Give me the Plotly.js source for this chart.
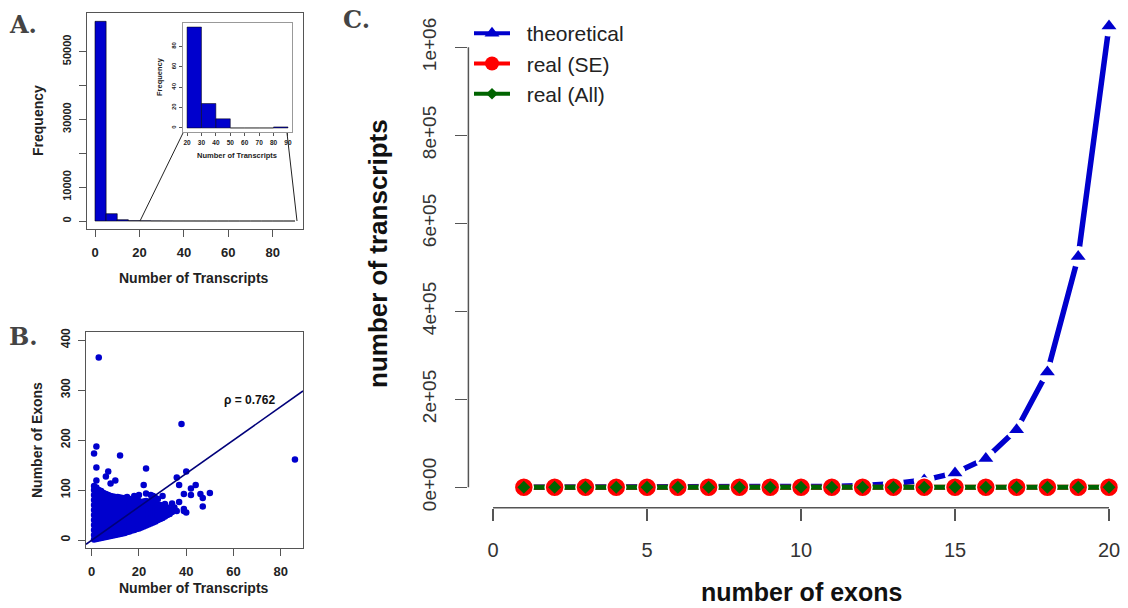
<!DOCTYPE html>
<html><head><meta charset="utf-8">
<script src="https://cdn.plot.ly/plotly-3.0.1.min.js"></script>
<style>html,body{margin:0;padding:0;background:#fff}#chart{width:1128px;height:608px}</style>
</head><body><div id="chart"></div>
<script>
// ---------- Panel A: histogram of transcripts per gene ----------
const histBinStart = [0,5,10,15,20,25,30,35,40,45,50,55,60,65,70,75,80,85];
const histCounts   = [58900,2150,380,110,70,29,15,9,6,3,0,0,0,0,0,0,0,1];
const histBinWidth = 5;
// inset (zoom on 20-90)
const insetBinStart = [20,30,40,50,60,70,80];
const insetCounts   = [99,24,9,0,0,0,1];
const insetBinWidth = 10;

// ---------- Panel B: transcripts vs exons ----------
const outlierX = [3,38,2,1,12,2,23,40,7,6,36,10,2,8,22,37,44,86,42,50,46,39,42,47,47,37,39,40,39,34,30,26,18,15,12,6,23,27,33,26,25,28,31,35,30,36,20];
const outlierY = [365,232,187,173,169,145,143,137,137,127,125,119,119,113,110,110,110,161,103,94,92,92,90,84,67,76,62,55,58,73,88,88,88,86,85,84,93,84,55,40,90,82,72,65,50,58,90];
// dense cloud: per number of transcripts, the exon counts observed
const cloudCols = [
 [1,[1,10,20,30,40,50,60,70,80,90,100,108]],
 [2,[2,10,20,30,40,50,60,70,80,90,100,105]],
 [3,[3,12,22,32,42,52,62,72,82,92,100]],
 [4,[4,13,23,33,43,53,63,73,83,93,98]],
 [5,[5,14,24,34,44,54,64,74,84,94]],
 [6,[6,15,25,35,45,55,65,75,85,92]],
 [7,[7,16,26,36,46,56,66,76,86,90]],
 [8,[8,17,27,37,47,57,67,77,88]],
 [9,[9,18,28,38,48,58,68,78,87]],
 [10,[10,19,29,39,49,59,69,79,86]],
 [11,[11,21,31,41,51,61,71,81,86]],
 [12,[12,22,32,42,52,62,72,82]],
 [13,[13,23,33,43,53,63,73,84]],
 [14,[14,24,34,44,54,64,74,84]],
 [15,[16,26,36,46,56,66,76,84]],
 [16,[17,27,37,47,57,67,77,82]],
 [17,[19,29,39,49,59,69,79]],
 [18,[20,30,40,50,60,70,80]],
 [19,[22,32,42,52,62,72,80]],
 [20,[23,33,43,53,63,73,78]],
 [21,[25,35,45,55,65,75]],
 [22,[27,37,47,57,67,77]],
 [23,[29,39,49,59,69,78]],
 [24,[31,41,51,61,71,76]],
 [25,[33,43,53,63,73,78]],
 [26,[35,45,55,65,75]],
 [27,[37,47,57,67,74]],
 [28,[40,50,60,70]],
 [29,[42,52,62,70]],
 [30,[44,54,64,68]],
 [31,[47,57,67]],
 [32,[50,58,65]],
 [33,[52,60]],
 [34,[56,62]]
];
const fitX = [-2.4, 89.4];
const fitY = [-8.5, 298];
const rhoLabel = 'ρ = 0.762';

// ---------- Panel C: transcripts vs exons (theoretical / real) ----------
const exonCounts  = [1,2,3,4,5,6,7,8,9,10,11,12,13,14,15,16,17,18,19,20];
const theoretical = [2,4,8,16,32,64,128,256,512,1024,2048,4096,8192,16384,32768,65536,131072,262144,524288,1048576];
const realSE      = [1,2,3,4,6,8,9,11,12,13,14,15,16,17,18,19,20,21,22,23];
const realAll     = [1,3,5,8,10,13,15,18,20,22,25,27,30,32,35,37,40,42,45,47];
const seriesNames = ['theoretical', 'real (SE)', 'real (All)'];
const cYTicks     = [0,200000,400000,600000,800000,1000000];
const cYTickText  = ['0e+00','2e+05','4e+05','6e+05','8e+05','1e+06'];
const cXTicks     = [0,5,10,15,20];

// ---------- helpers ----------
const W = 1128, H = 608;
const px = v => v / W;
const py = v => 1 - v / H;

const BLUE = '#0000CD', NAVY = '#00007a', RED = '#FF0000', GREEN = '#006400';
const boldFont = (s, c) => ({family: 'Liberation Sans, Arial, sans-serif', size: s, weight: 'bold', color: c || '#222'});
const pad = s => '\u00a0\u00a0' + s;

const cloudX = [], cloudY = [];
cloudCols.forEach(([x, ys]) => ys.forEach(y => { cloudX.push(x); cloudY.push(y); }));

const traces = [
  // A main
  {type: 'bar', xaxis: 'x', yaxis: 'y',
   x: histBinStart.map(s => s + histBinWidth / 2), y: histCounts, width: histBinWidth,
   marker: {color: BLUE, line: {color: '#000', width: 0.6}}, showlegend: false, hoverinfo: 'skip'},
  // A inset
  {type: 'bar', xaxis: 'x2', yaxis: 'y2',
   x: insetBinStart.map(s => s + insetBinWidth / 2), y: insetCounts, width: insetBinWidth,
   marker: {color: BLUE, line: {color: '#000', width: 0.5}}, showlegend: false, hoverinfo: 'skip'},
  // B
  {type: 'scatter', mode: 'markers', xaxis: 'x3', yaxis: 'y3', x: cloudX, y: cloudY,
   marker: {color: BLUE, size: 6.5}, showlegend: false, hoverinfo: 'skip'},
  {type: 'scatter', mode: 'markers', xaxis: 'x3', yaxis: 'y3', x: outlierX, y: outlierY,
   marker: {color: BLUE, size: 6.5}, showlegend: false, hoverinfo: 'skip'},
  {type: 'scatter', mode: 'lines', xaxis: 'x3', yaxis: 'y3', x: fitX, y: fitY,
   line: {color: NAVY, width: 1.6}, showlegend: false, hoverinfo: 'skip', cliponaxis: true},
  // C: theoretical line, white gaps around points (R type="b"), triangles
  {type: 'scatter', mode: 'lines', xaxis: 'x4', yaxis: 'y4', x: exonCounts, y: theoretical,
   line: {color: BLUE, width: 5.5}, showlegend: false},
  {type: 'scatter', mode: 'markers', xaxis: 'x4', yaxis: 'y4', x: exonCounts, y: theoretical,
   marker: {symbol: 'circle', size: 21, color: '#fff'}, showlegend: false, cliponaxis: false},
  {type: 'scatter', mode: 'markers', xaxis: 'x4', yaxis: 'y4', x: exonCounts, y: theoretical,
   marker: {symbol: 'triangle-up', size: 13, color: BLUE}, showlegend: false, cliponaxis: false},
  // C: real series
  {type: 'scatter', mode: 'lines', xaxis: 'x4', yaxis: 'y4', x: exonCounts, y: realSE,
   line: {color: RED, width: 5}, showlegend: false},
  {type: 'scatter', mode: 'lines', xaxis: 'x4', yaxis: 'y4', x: exonCounts, y: realAll,
   line: {color: GREEN, width: 5}, showlegend: false},
  {type: 'scatter', mode: 'markers', xaxis: 'x4', yaxis: 'y4', x: exonCounts, y: realSE,
   marker: {symbol: 'circle', size: 19, color: RED, line: {color: '#fff', width: 1.5}}, showlegend: false, cliponaxis: false},
  {type: 'scatter', mode: 'markers', xaxis: 'x4', yaxis: 'y4', x: exonCounts, y: realAll,
   marker: {symbol: 'diamond', size: 10, color: GREEN}, showlegend: false, cliponaxis: false},
  // legend entries
  {type: 'scatter', mode: 'lines+markers', xaxis: 'x4', yaxis: 'y4', x: [null], y: [null], name: pad(seriesNames[0]),
   line: {color: BLUE, width: 4}, marker: {symbol: 'triangle-up', size: 13, color: BLUE}},
  {type: 'scatter', mode: 'lines+markers', xaxis: 'x4', yaxis: 'y4', x: [null], y: [null], name: pad(seriesNames[1]),
   line: {color: RED, width: 4}, marker: {symbol: 'circle', size: 14, color: RED}},
  {type: 'scatter', mode: 'lines+markers', xaxis: 'x4', yaxis: 'y4', x: [null], y: [null], name: pad(seriesNames[2]),
   line: {color: GREEN, width: 4}, marker: {symbol: 'diamond', size: 9, color: GREEN}}
];

const rAxis = (extra) => Object.assign({
  showgrid: false, zeroline: false, showline: true, mirror: true,
  linecolor: '#555', linewidth: 1.3, ticks: 'outside', tickcolor: '#555', tickwidth: 1,
  fixedrange: true
}, extra);

const layout = {
  width: W, height: H,
  margin: {l: 0, r: 0, t: 0, b: 0, pad: 0},
  paper_bgcolor: '#fff', plot_bgcolor: 'rgba(0,0,0,0)',
  font: {family: 'Liberation Sans, Arial, sans-serif', color: '#222'},
  xaxis: rAxis({domain: [px(87), px(303)], range: [-3.6, 93.6], anchor: 'y',
    tickvals: [0,20,40,60,80], ticklen: 7, ticklabelstandoff: 4, tickfont: boldFont(13)}),
  yaxis: rAxis({domain: [py(229), py(13)], range: [-2360, 61360], anchor: 'x',
    tickvals: [0,10000,20000,30000,40000,50000], ticktext: ['0','10000','','30000','','50000'],
    tickangle: -90, ticklen: 7, ticklabelstandoff: 3, tickfont: boldFont(11)}),
  xaxis2: rAxis({domain: [px(183), px(292)], range: [17.2, 92.8], anchor: 'y2',
    tickvals: [20,30,40,50,60,70,80,90], ticklen: 3, ticklabelstandoff: 1, tickfont: boldFont(6.5),
    linecolor: '#999', linewidth: 1}),
  yaxis2: rAxis({domain: [py(132), py(23)], range: [-3.96, 102.96], anchor: 'x2',
    tickvals: [0,20,40,60,80], tickangle: -90, ticklen: 3, ticklabelstandoff: 1, tickfont: boldFont(6),
    linecolor: '#999', linewidth: 1}),
  xaxis3: rAxis({domain: [px(86), px(303)], range: [-2.4, 89.4], anchor: 'y3',
    tickvals: [0,20,40,60,80], ticklen: 7, ticklabelstandoff: 4, tickfont: boldFont(13)}),
  yaxis3: rAxis({domain: [py(548), py(332)], range: [-16, 416], anchor: 'x3',
    tickvals: [0,100,200,300,400], tickangle: -90, ticklen: 7, ticklabelstandoff: 3, tickfont: boldFont(12)}),
  xaxis4: {domain: [px(468.4), 1], range: [-0.8, 20.617], anchor: 'y4',
    showgrid: false, zeroline: false, showline: false, fixedrange: true,
    ticks: 'outside', ticklen: 12, tickwidth: 1.5, tickcolor: '#555',
    tickvals: cXTicks, ticklabelstandoff: 12,
    tickfont: {family: 'Liberation Sans, Arial, sans-serif', size: 20, color: '#333'}},
  yaxis4: {domain: [py(507.7), py(7)], range: [-46364, 1091591], anchor: 'x4',
    showgrid: false, zeroline: false, showline: false, fixedrange: true,
    ticks: 'outside', ticklen: 12, tickwidth: 1.5, tickcolor: '#555',
    tickvals: cYTicks, ticktext: cYTickText, tickangle: -90, ticklabelstandoff: 12,
    tickfont: {family: 'Liberation Sans, Arial, sans-serif', size: 19, color: '#333'}},
  legend: {x: px(469), y: py(13), xanchor: 'left', yanchor: 'top', bgcolor: 'rgba(0,0,0,0)',
    font: {family: 'Liberation Sans, Arial, sans-serif', size: 21, color: '#222'},
    itemwidth: 36, tracegroupgap: 0},
  shapes: [
    // C axis lines (R style, only between extreme ticks)
    {type: 'line', xref: 'x4', yref: 'y4 domain', x0: 0, x1: 20, y0: 0, y1: 0, line: {color: '#555', width: 1.5}},
    {type: 'line', xref: 'x4 domain', yref: 'y4', x0: 0, x1: 0, y0: 0, y1: 1000000, line: {color: '#555', width: 1.5}},
    // A zoom connectors
    {type: 'line', xref: 'paper', yref: 'paper', x0: px(140), y0: py(221), x1: px(183), y1: py(133), line: {color: '#222', width: 1}},
    {type: 'line', xref: 'paper', yref: 'paper', x0: px(297), y0: py(221), x1: px(287), y1: py(133), line: {color: '#222', width: 1}}
  ],
  annotations: [
    {text: 'A.', xref: 'paper', yref: 'paper', x: px(23), y: py(24), showarrow: false, xanchor: 'center', yanchor: 'middle',
     font: {family: 'DejaVu Serif, serif', size: 24, weight: 'bold', color: '#444'}},
    {text: 'B.', xref: 'paper', yref: 'paper', x: px(23), y: py(336), showarrow: false, xanchor: 'center', yanchor: 'middle',
     font: {family: 'DejaVu Serif, serif', size: 24, weight: 'bold', color: '#444'}},
    {text: 'C.', xref: 'paper', yref: 'paper', x: px(356), y: py(19), showarrow: false, xanchor: 'center', yanchor: 'middle',
     font: {family: 'DejaVu Serif, serif', size: 24, weight: 'bold', color: '#444'}},
    {text: 'Frequency', xref: 'paper', yref: 'paper', x: px(38), y: py(121), textangle: -90, showarrow: false,
     xanchor: 'center', yanchor: 'middle', font: boldFont(14)},
    {text: 'Number of Transcripts', xref: 'paper', yref: 'paper', x: px(194), y: py(278), showarrow: false,
     xanchor: 'center', yanchor: 'middle', font: boldFont(14)},
    {text: 'Frequency', xref: 'paper', yref: 'paper', x: px(159), y: py(77), textangle: -90, showarrow: false,
     xanchor: 'center', yanchor: 'middle', font: boldFont(7.5)},
    {text: 'Number of Transcripts', xref: 'paper', yref: 'paper', x: px(237), y: py(156), showarrow: false,
     xanchor: 'center', yanchor: 'middle', font: boldFont(7.5)},
    {text: 'Number of Exons', xref: 'paper', yref: 'paper', x: px(37), y: py(440), textangle: -90, showarrow: false,
     xanchor: 'center', yanchor: 'middle', font: boldFont(14)},
    {text: 'Number of Transcripts', xref: 'paper', yref: 'paper', x: px(194), y: py(588), showarrow: false,
     xanchor: 'center', yanchor: 'middle', font: boldFont(14)},
    {text: rhoLabel, xref: 'paper', yref: 'paper', x: px(250), y: py(400), showarrow: false,
     xanchor: 'center', yanchor: 'middle', font: boldFont(12, '#111')},
    {text: 'number of transcripts', xref: 'paper', yref: 'paper', x: px(378), y: py(254), textangle: -90, showarrow: false,
     xanchor: 'center', yanchor: 'middle', font: boldFont(26, '#111')},
    {text: 'number of exons', xref: 'paper', yref: 'paper', x: px(801), y: py(592), showarrow: false,
     xanchor: 'center', yanchor: 'middle', font: boldFont(25, '#111')}
  ]
};

Plotly.newPlot('chart', traces, layout, {staticPlot: true, displayModeBar: false});
</script>
</body></html>
